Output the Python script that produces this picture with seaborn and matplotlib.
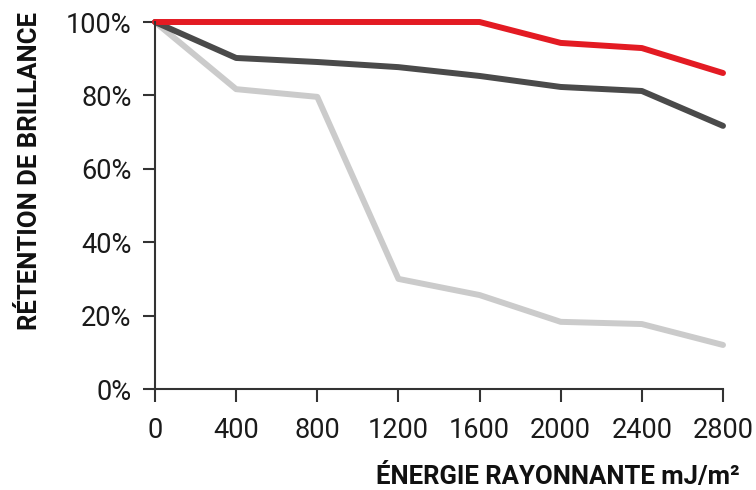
import matplotlib
matplotlib.use("Agg")
import matplotlib.pyplot as plt
from matplotlib.ticker import FuncFormatter
import seaborn as sns
import pandas as pd

# Radiant energy (mJ/m²) and gloss retention (%) for three coatings
energie = [0, 400, 800, 1200, 1600, 2000, 2400, 2800]
serie_rouge = [100, 100, 100, 100, 100, 94.3, 92.9, 86.1]
serie_foncee = [100, 90.2, 89.1, 87.7, 85.3, 82.3, 81.2, 71.7]
serie_claire = [100, 81.7, 79.6, 30.0, 25.6, 18.3, 17.7, 12.0]

noms = ["claire", "foncee", "rouge"]
couleurs = {"claire": "#cbcbcb", "foncee": "#4a4a4a", "rouge": "#e31b23"}

df = pd.concat([
    pd.DataFrame({"energie": energie, "retention": serie_claire, "serie": "claire"}),
    pd.DataFrame({"energie": energie, "retention": serie_foncee, "serie": "foncee"}),
    pd.DataFrame({"energie": energie, "retention": serie_rouge, "serie": "rouge"}),
])

sns.set_style("white")
plt.rcParams["font.family"] = ["Roboto", "DejaVu Sans"]

fig = plt.figure(figsize=(7.56, 4.90), dpi=100)
ax = fig.add_axes([155 / 756, 1 - 389 / 490, (723 - 155) / 756, (389 - 22) / 490])

sns.lineplot(data=df, x="energie", y="retention", hue="serie", hue_order=noms,
             palette=couleurs, linewidth=4.3, legend=False, ax=ax, sort=False)
for ln in ax.get_lines():
    ln.set_clip_on(False)
    ln.set_solid_capstyle("round")
    ln.set_solid_joinstyle("round")

ax.set_xlim(0, 2800)
ax.set_ylim(0, 100)
ax.set_xticks(energie)
ax.set_yticks([0, 20, 40, 60, 80, 100])
ax.yaxis.set_major_formatter(FuncFormatter(lambda v, _: f"{v:.0f}%"))

for s in ["top", "right"]:
    ax.spines[s].set_visible(False)
for s in ["left", "bottom"]:
    ax.spines[s].set_color("#333333")
    ax.spines[s].set_linewidth(1.5)

ax.tick_params(axis="both", direction="out", length=9, width=1.5, color="#333333",
               labelsize=19.5, labelcolor="#1a1a1a")
ax.tick_params(axis="y", pad=8, left=True)
ax.tick_params(axis="x", pad=11, bottom=True)

ax.set_xlabel("ÉNERGIE RAYONNANTE mJ/m²", fontsize=18.5, fontweight="bold", color="#111111")
ax.xaxis.set_label_coords((740 - 155) / 568, -(484 - 389) / 367)
ax.xaxis.label.set_horizontalalignment("right")
ax.xaxis.label.set_verticalalignment("baseline")

ax.set_ylabel("RÉTENTION DE BRILLANCE", fontsize=18.5, fontweight="bold", color="#111111")
ax.yaxis.set_label_coords(-(155 - 30) / 568, (389 - 171) / 367)
ax.yaxis.label.set_verticalalignment("center")

fig.savefig("out.png", dpi=100)
